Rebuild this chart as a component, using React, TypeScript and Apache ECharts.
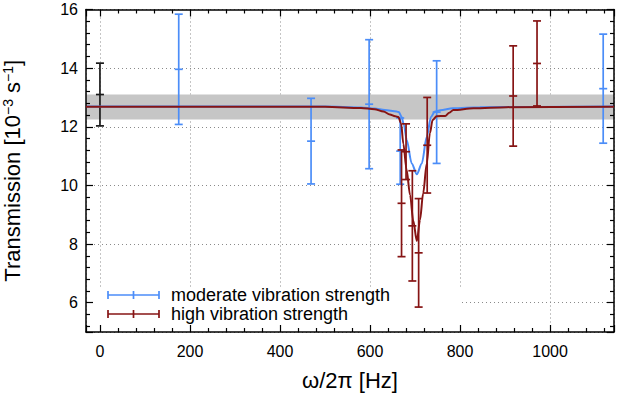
import React, { useEffect, useRef } from 'react';
import * as echarts from 'echarts';

const FONT = '"Liberation Sans", Arial, Helvetica, sans-serif';
const BLUE = '#4b8df8';
const RED = '#861414';
const BLACK = '#1a1a1a';

const xMin = -31;
const xMax = 1142;
const yMin = 5;
const yMax = 16;
const bandRange = [12.25, 13.1];

// reference measurement (black)
const refFreq = [0];
const refVal = [13.1];
const refErr = [1.07];

// moderate vibration strength (blue)
const blueFreq = [175, 469, 598, 667, 748, 1118];
const blueVal = [13.96, 11.51, 12.77, 11.17, 12.5, 13.3];
const blueErr = [1.88, 1.46, 2.2, 1.13, 1.75, 1.86];

// high vibration strength (red)
const redFreq = [670, 680, 694, 708, 727, 918, 971];
const redVal = [9.39, 11.15, 8.62, 7.7, 11.37, 13.05, 14.16];
const redErr = [1.82, 0.95, 1.88, 1.85, 1.63, 1.71, 1.45];

// model curves
const blueCurveFreq = [-31, 500, 580, 610, 633, 659, 664, 670, 675, 681.5, 692.6, 704, 715, 726, 735.6, 744, 756, 784, 844, 1142];
const blueCurveVal = [12.69, 12.69, 12.66, 12.62, 12.57, 12.52, 12.5, 12.34, 12.08, 11.55, 10.75, 10.38, 10.75, 11.66, 12.34, 12.52, 12.56, 12.63, 12.67, 12.69];

const redCurveFreq = [-31, 500, 580, 610, 630, 644, 656, 663, 669, 674, 681, 689, 696, 704, 711, 718, 726, 733, 739, 748, 767, 776, 785, 830, 904, 1142];
const redCurveVal = [12.68, 12.68, 12.64, 12.6, 12.52, 12.42, 12.36, 12.33, 12.12, 11.42, 10.55, 9.67, 8.8, 8.1, 8.82, 9.73, 10.75, 11.78, 12.23, 12.36, 12.37, 12.48, 12.57, 12.63, 12.67, 12.68];

const legendNames = ['moderate vibration strength', 'high vibration strength'];
const legendColors = [BLUE, RED];

function errorBarRenderer(color: string) {
  return (params: any, api: any) => {
    const x = api.value(0);
    const v = api.value(1);
    const e = api.value(2);
    const pc = api.coord([x, v]);
    const pt = api.coord([x, v + e]);
    const pb = api.coord([x, v - e]);
    const hw = 4;
    const style = { stroke: color, lineWidth: 1.7 };
    return {
      type: 'group',
      children: [
        { type: 'line', shape: { x1: pt[0], y1: pt[1], x2: pb[0], y2: pb[1] }, style },
        { type: 'line', shape: { x1: pt[0] - hw, y1: pt[1], x2: pt[0] + hw, y2: pt[1] }, style },
        { type: 'line', shape: { x1: pb[0] - hw, y1: pb[1], x2: pb[0] + hw, y2: pb[1] }, style },
        { type: 'line', shape: { x1: pc[0] - hw, y1: pc[1], x2: pc[0] + hw, y2: pc[1] }, style },
      ],
    };
  };
}

function pairs(xs: number[], ys: number[]) {
  return xs.map((x, i) => [x, ys[i]]);
}
function triples(xs: number[], ys: number[], es: number[]) {
  return xs.map((x, i) => [x, ys[i], es[i]]);
}

export default function App() {
  const ref = useRef<HTMLDivElement>(null);
  useEffect(() => {
    if (!ref.current) return;
    const chart = echarts.init(ref.current, undefined, { renderer: 'svg' });

    const tickAxisCommon = {
      axisLine: { show: true, onZero: false, lineStyle: { color: '#000', width: 1.5 } },
      axisTick: { show: true, inside: true, length: 7, lineStyle: { color: '#000', width: 1.2 } },
      minorTick: { show: true, splitNumber: 5, length: 4, lineStyle: { color: '#000', width: 1.2 } },
      axisLabel: { show: false },
      splitLine: { show: false },
      z: 5,
    };
    const gridLine = { show: true, lineStyle: { type: [1, 3], color: '#8a8a8a', width: 1 } };

    const legendGraphics: any[] = [
      { type: 'rect', z: 1, silent: true, shape: { x: 87, y: 287, width: 374, height: 44 }, style: { fill: '#fff' } },
    ];
    legendNames.forEach((name, i) => {
      const y = 295 + i * 19;
      const st = { stroke: legendColors[i], lineWidth: 1.7 };
      legendGraphics.push(
        { type: 'line', z: 10, shape: { x1: 108, y1: y, x2: 159, y2: y }, style: st },
        { type: 'line', z: 10, shape: { x1: 108, y1: y - 4, x2: 108, y2: y + 4 }, style: st },
        { type: 'line', z: 10, shape: { x1: 133.5, y1: y - 4, x2: 133.5, y2: y + 4 }, style: st },
        { type: 'line', z: 10, shape: { x1: 159, y1: y - 4, x2: 159, y2: y + 4 }, style: st },
        {
          type: 'text', z: 10,
          style: { x: 171, y, text: name, fill: '#000', font: `18px ${FONT}`, verticalAlign: 'middle', textVerticalAlign: 'middle' },
        }
      );
    });

    chart.setOption({
      animation: false,
      textStyle: { fontFamily: FONT },
      grid: { left: 86, right: 9, top: 9.5, bottom: 64, containLabel: false, outerBoundsMode: 'none' },
      xAxis: [
        {
          type: 'value', min: xMin, max: xMax, position: 'bottom',
          axisLine: { show: false }, axisTick: { show: false },
          axisLabel: {
            color: '#000', fontSize: 16, fontFamily: FONT, margin: 11,
            showMinLabel: false, showMaxLabel: false,
            formatter: (v: number) => String(v),
          },
          splitLine: gridLine,
          name: 'ω/2π [Hz]', nameLocation: 'middle', nameGap: 37,
          nameTextStyle: { color: '#000', fontSize: 22, fontFamily: FONT },
          z: 0,
        },
        { type: 'value', min: xMin, max: xMax, position: 'bottom', ...tickAxisCommon },
        { type: 'value', min: xMin, max: xMax, position: 'top', ...tickAxisCommon },
      ],
      yAxis: [
        {
          type: 'value', min: yMin, max: yMax, position: 'left',
          axisLine: { show: false }, axisTick: { show: false },
          axisLabel: {
            color: '#000', fontSize: 16, fontFamily: FONT, margin: 8, showMinLabel: false,
            formatter: (v: number) => String(v),
          },
          splitLine: gridLine,
          name: 'Transmission [10{sup|−3} s{sup|−1}]', nameLocation: 'middle', nameGap: 63,
          nameTextStyle: {
            color: '#000', fontSize: 22, fontFamily: FONT,
            rich: { sup: { fontSize: 14, fontFamily: FONT, color: '#000', verticalAlign: 'top', lineHeight: 14 } },
          },
          z: 0,
        },
        { type: 'value', min: yMin, max: yMax, position: 'left', ...tickAxisCommon },
        { type: 'value', min: yMin, max: yMax, position: 'right', ...tickAxisCommon },
      ],
      graphic: legendGraphics,
      series: [
        {
          type: 'custom', name: 'band', z: 1, silent: true,
          data: [[bandRange[0], bandRange[1]]],
          renderItem: (params: any, api: any) => {
            const cs = params.coordSys;
            const yHi = api.coord([0, api.value(1)])[1];
            const yLo = api.coord([0, api.value(0)])[1];
            return { type: 'rect', shape: { x: cs.x, y: yHi, width: cs.width, height: yLo - yHi }, style: { fill: '#c6c6c6' } };
          },
        },
        {
          type: 'custom', name: 'reference', z: 3, silent: true,
          data: triples(refFreq, refVal, refErr),
          renderItem: errorBarRenderer(BLACK),
        },
        {
          type: 'custom', name: legendNames[0], z: 3, silent: true,
          data: triples(blueFreq, blueVal, blueErr),
          renderItem: errorBarRenderer(BLUE),
        },
        {
          type: 'line', name: legendNames[0] + ' model', z: 4, silent: true,
          data: pairs(blueCurveFreq, blueCurveVal),
          showSymbol: false, smooth: 0.3, smoothMonotone: 'x',
          lineStyle: { color: BLUE, width: 2 },
        },
        {
          type: 'custom', name: legendNames[1], z: 5, silent: true,
          data: triples(redFreq, redVal, redErr),
          renderItem: errorBarRenderer(RED),
        },
        {
          type: 'line', name: legendNames[1] + ' model', z: 6, silent: true,
          data: pairs(redCurveFreq, redCurveVal),
          showSymbol: false, smooth: 0.3, smoothMonotone: 'x',
          lineStyle: { color: RED, width: 2 },
        },
      ],
    });
    return () => chart.dispose();
  }, []);
  return <div ref={ref} style={{ width: 623, height: 396, position: 'absolute', left: 0, top: 0 }} />;
}
